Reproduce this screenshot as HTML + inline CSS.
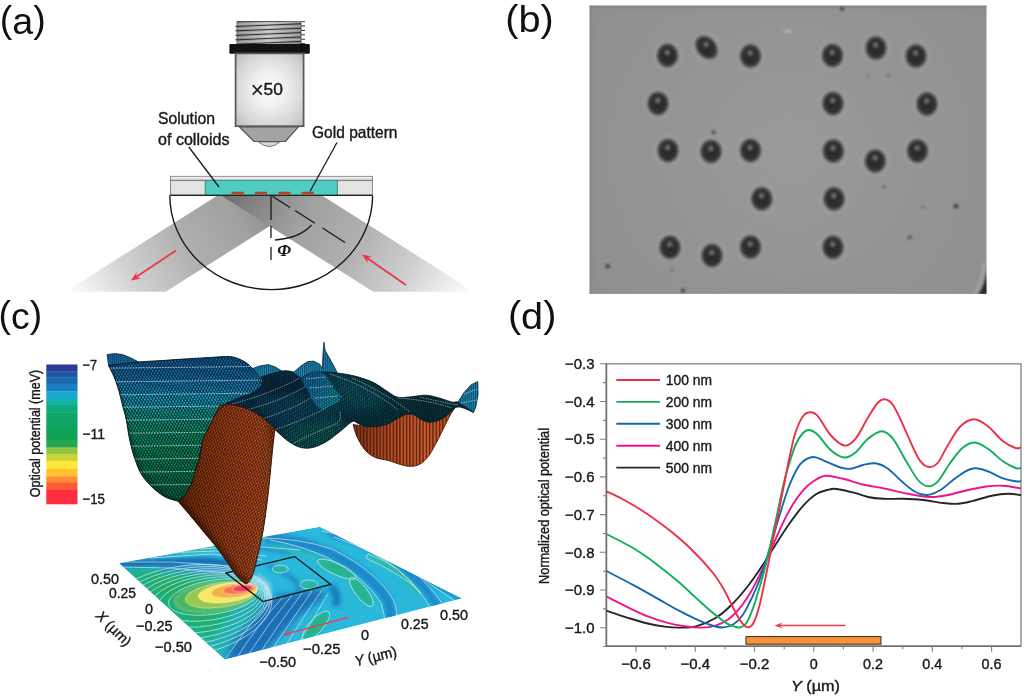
<!DOCTYPE html>
<html><head><meta charset="utf-8"><title>Figure</title>
<style>
html,body{margin:0;padding:0;background:#fff;}
body{width:1024px;height:698px;overflow:hidden;}
svg{display:block;}
text{font-family:"Liberation Sans",Arial,sans-serif;}
.lbl{font-size:36px;fill:#111;}
</style></head><body>
<svg width="1024" height="698" viewBox="0 0 1024 698">
<rect width="1024" height="698" fill="#ffffff"/>
<defs>
<linearGradient id="beamL" gradientUnits="userSpaceOnUse" x1="318" y1="195.5" x2="95" y2="336.5"><stop offset="0" stop-color="#6c6c6c"/><stop offset="0.13" stop-color="#858585"/><stop offset="0.3" stop-color="#a0a0a0"/><stop offset="0.5" stop-color="#adadad"/><stop offset="0.75" stop-color="#cfcfcf"/><stop offset="1" stop-color="#ffffff"/></linearGradient>
<linearGradient id="beamR" gradientUnits="userSpaceOnUse" x1="221" y1="195.5" x2="444" y2="336.5"><stop offset="0" stop-color="#6c6c6c"/><stop offset="0.13" stop-color="#858585"/><stop offset="0.3" stop-color="#a0a0a0"/><stop offset="0.5" stop-color="#adadad"/><stop offset="0.75" stop-color="#cfcfcf"/><stop offset="1" stop-color="#ffffff"/></linearGradient>
<radialGradient id="objbody" cx="0.5" cy="0.5" r="0.7"><stop offset="0" stop-color="#ffffff"/><stop offset="0.35" stop-color="#efefef"/><stop offset="0.75" stop-color="#d4d4d4"/><stop offset="1" stop-color="#bababa"/></radialGradient>
<linearGradient id="thr" x1="0" y1="0" x2="1" y2="0"><stop offset="0" stop-color="#858585"/><stop offset="0.5" stop-color="#c4c4c4"/><stop offset="1" stop-color="#858585"/></linearGradient>
<linearGradient id="cone" x1="0" y1="0" x2="1" y2="0"><stop offset="0" stop-color="#8c8c8c"/><stop offset="0.5" stop-color="#b4b4b4"/><stop offset="1" stop-color="#8c8c8c"/></linearGradient>
<clipPath id="clipA"><rect x="0" y="0" width="512" height="291.8"/></clipPath>
</defs>
<text class="lbl" x="-0.2" y="32" textLength="46" lengthAdjust="spacingAndGlyphs">(<tspan dy="1.5">a</tspan><tspan dy="-1.5">)</tspan></text>
<g clip-path="url(#clipA)">
<path d="M217.5,195.5L318.0,195.5L165.3,292.0L64.8,292.0Z" fill="url(#beamL)"/>
<path d="M322.0,195.5L221.0,195.5L373.7,292.0L474.7,292.0Z" fill="url(#beamR)"/>
</g>
<path d="M169.8,195.4 A101.4,94.2 0 0 0 372.6,195.4" fill="none" stroke="#1a1a1a" stroke-width="1.4"/>
<path d="M271,196 V220 M271,226 V238 M271,247 V260" stroke="#1a1a1a" stroke-width="1.3" fill="none"/>
<path d="M272.5,196.3 L290,207.5 M295,210.5 L315,223.3 M322.5,228 L345,242.5" stroke="#1a1a1a" stroke-width="1.3" fill="none"/>
<path d="M275,240 Q300,238 311.5,225" stroke="#1a1a1a" stroke-width="1.3" fill="none"/>
<text x="277.3" y="256.3" font-size="17.5" font-style="italic" font-weight="bold" style="font-family:'Liberation Serif',serif" fill="#1a1a1a">Φ</text>
<defs><linearGradient id="cg" x1="0" y1="0" x2="0" y2="1"><stop offset="0" stop-color="#f4f4f4"/><stop offset="0.55" stop-color="#e4e4e4"/><stop offset="1" stop-color="#a8a8a8"/></linearGradient></defs>
<rect x="170.4" y="176.3" width="202" height="4.3" fill="url(#cg)" stroke="#7a7a7a" stroke-width="0.8"/>
<rect x="170.4" y="180.6" width="34.8" height="14.4" fill="#e2e3e3" stroke="#7a7a7a" stroke-width="0.9"/>
<rect x="337.4" y="180.6" width="35" height="14.4" fill="#e2e3e3" stroke="#7a7a7a" stroke-width="0.9"/>
<rect x="205.4" y="180.6" width="131.8" height="14.4" fill="#4fcdc4" stroke="#3a8a86" stroke-width="0.8"/>
<path d="M169.8,195.4 H372.6" stroke="#222222" stroke-width="1.3"/>
<rect x="231.5" y="191.8" width="12.4" height="2.5" rx="1.1" fill="#c43e20"/>
<rect x="254.8" y="191.8" width="12.4" height="2.5" rx="1.1" fill="#c43e20"/>
<rect x="278.2" y="191.8" width="12.4" height="2.5" rx="1.1" fill="#c43e20"/>
<rect x="301.5" y="191.8" width="12.4" height="2.5" rx="1.1" fill="#c43e20"/>
<rect x="237" y="21.2" width="64" height="23" fill="url(#thr)"/>
<path d="M237,21.6 H305" stroke="#3a3a3a" stroke-width="0.9"/>
<path d="M237,21.2 V44 M301,21.2 V44" stroke="#555555" stroke-width="0.9"/>
<path d="M237,26.4 L301,23.8" stroke="#2e2e2e" stroke-width="1"/>
<path d="M237,24.3 L301,21.7" stroke="#e6e6e6" stroke-width="1.2" opacity="0.35"/>
<path d="M235.4,26.4 H237.2" stroke="#2e2e2e" stroke-width="1"/>
<path d="M300.8,26.0 H305" stroke="#2e2e2e" stroke-width="1"/>
<path d="M237,30.8 L301,28.2" stroke="#2e2e2e" stroke-width="1"/>
<path d="M237,28.7 L301,26.1" stroke="#e6e6e6" stroke-width="1.2" opacity="0.35"/>
<path d="M235.4,30.8 H237.2" stroke="#2e2e2e" stroke-width="1"/>
<path d="M300.8,30.4 H305" stroke="#2e2e2e" stroke-width="1"/>
<path d="M237,35.3 L301,32.6" stroke="#2e2e2e" stroke-width="1"/>
<path d="M237,33.2 L301,30.5" stroke="#e6e6e6" stroke-width="1.2" opacity="0.35"/>
<path d="M235.4,35.3 H237.2" stroke="#2e2e2e" stroke-width="1"/>
<path d="M300.8,34.8 H305" stroke="#2e2e2e" stroke-width="1"/>
<path d="M237,39.8 L301,37.0" stroke="#2e2e2e" stroke-width="1"/>
<path d="M237,37.6 L301,34.9" stroke="#e6e6e6" stroke-width="1.2" opacity="0.35"/>
<path d="M235.4,39.8 H237.2" stroke="#2e2e2e" stroke-width="1"/>
<path d="M300.8,39.2 H305" stroke="#2e2e2e" stroke-width="1"/>
<path d="M237,44.2 L301,41.4" stroke="#2e2e2e" stroke-width="1"/>
<path d="M237,42.1 L301,39.3" stroke="#e6e6e6" stroke-width="1.2" opacity="0.35"/>
<path d="M300.8,43.6 H305" stroke="#2e2e2e" stroke-width="1"/>
<rect x="229.4" y="44" width="80.4" height="9.7" rx="1.2" fill="#141210"/>
<rect x="235.6" y="53.4" width="68" height="72.8" fill="url(#objbody)" stroke="#565656" stroke-width="1.7"/>
<path d="M258.3,141.8 Q269.2,151.3 280,141.8Z" fill="#d6d6d6" stroke="#6a6a6a" stroke-width="0.9"/>
<path d="M239.3,126.8 H298.4 L285.2,141.5 H254.2Z" fill="#a3a3a1" stroke="#555555" stroke-width="1.2" stroke-linejoin="round"/>
<text x="250.6" y="97.6" font-size="23" fill="#1a1a1a">×</text>
<text x="263.6" y="95.0" font-size="17.3" text-anchor="start" fill="#1a1a1a" font-weight="normal" textLength="19.4" lengthAdjust="spacingAndGlyphs"  stroke="#1a1a1a" stroke-width="0.4">50</text>
<text x="158.0" y="124.0" font-size="16.5" text-anchor="start" fill="#1a1a1a" font-weight="normal" textLength="57.0" lengthAdjust="spacingAndGlyphs"  stroke="#1a1a1a" stroke-width="0.4">Solution</text>
<text x="158.0" y="144.5" font-size="16.5" text-anchor="start" fill="#1a1a1a" font-weight="normal" textLength="71.5" lengthAdjust="spacingAndGlyphs"  stroke="#1a1a1a" stroke-width="0.4">of colloids</text>
<text x="312.0" y="137.5" font-size="16.5" text-anchor="start" fill="#1a1a1a" font-weight="normal" textLength="85.5" lengthAdjust="spacingAndGlyphs"  stroke="#1a1a1a" stroke-width="0.4">Gold pattern</text>
<path d="M188.8,147 L219,187" stroke="#1a1a1a" stroke-width="1.3"/>
<path d="M337,142.5 L310,191.5" stroke="#1a1a1a" stroke-width="1.3"/>
<path d="M176.0,250.5 L135.7,277.3" stroke="#ef3348" stroke-width="1.7" fill="none"/><path d="M131.0,280.5 L136.8,272.1 L136.1,277.1 L141.0,278.4 Z" fill="#ef3348"/>
<path d="M406.0,285.0 L366.7,257.7" stroke="#ef3348" stroke-width="1.7" fill="none"/><path d="M362.0,254.5 L372.0,256.8 L367.1,258.0 L367.6,263.0 Z" fill="#ef3348"/>
<defs>
<radialGradient id="sph" cx="0.5" cy="0.5" r="0.5"><stop offset="0" stop-color="#2a2a2a"/><stop offset="0.6" stop-color="#2e2e2e"/><stop offset="0.76" stop-color="#454545"/><stop offset="0.9" stop-color="#777777" stop-opacity="0.8"/><stop offset="1" stop-color="#8f8f8f" stop-opacity="0"/></radialGradient>
<radialGradient id="halo" cx="0.5" cy="0.5" r="0.5"><stop offset="0.6" stop-color="#a2a2a2" stop-opacity="0.9"/><stop offset="1" stop-color="#a0a0a0" stop-opacity="0"/></radialGradient>
<radialGradient id="hl" cx="0.5" cy="0.5" r="0.5"><stop offset="0" stop-color="#8e8e8e"/><stop offset="0.5" stop-color="#707070" stop-opacity="0.6"/><stop offset="1" stop-color="#606060" stop-opacity="0"/></radialGradient>
<radialGradient id="bgb" gradientUnits="userSpaceOnUse" cx="790" cy="150" r="260"><stop offset="0" stop-color="#9a9a9a"/><stop offset="0.5" stop-color="#949494"/><stop offset="1" stop-color="#8f8f8f"/></radialGradient>
<filter id="bl" x="-20%" y="-20%" width="140%" height="140%"><feGaussianBlur stdDeviation="1.1"/></filter>
<clipPath id="clipB"><rect x="589.5" y="5.5" width="397" height="288.4"/></clipPath>
</defs>
<text class="lbl" x="505.3" y="31" textLength="48.5" lengthAdjust="spacingAndGlyphs">(<tspan dy="1.3">b</tspan><tspan dy="-1.3">)</tspan></text>
<rect x="589.5" y="5.5" width="397" height="288.4" fill="url(#bgb)"/>
<g clip-path="url(#clipB)">
<rect x="589.5" y="5.5" width="397" height="3" fill="#808080" opacity="0.5"/>
<rect x="589.5" y="5.5" width="3" height="289" fill="#808080" opacity="0.45"/>
<path d="M987.5,268 Q985.5,285 978.5,294.5 H987.5Z" fill="#262626" filter="url(#bl)"/>
<path d="M984.3,262 Q982.5,282 974.5,294" fill="none" stroke="#aaaaaa" stroke-width="1.8" filter="url(#bl)"/>
<g filter="url(#bl)">
<ellipse cx="667.5" cy="55.5" rx="16" ry="17.5" fill="url(#halo)"/>
<ellipse cx="706.5" cy="47.5" rx="16" ry="17.5" fill="url(#halo)"/>
<ellipse cx="750.5" cy="56.0" rx="16" ry="17.5" fill="url(#halo)"/>
<ellipse cx="832.5" cy="55.5" rx="16" ry="17.5" fill="url(#halo)"/>
<ellipse cx="876.0" cy="48.0" rx="16" ry="17.5" fill="url(#halo)"/>
<ellipse cx="916.0" cy="56.0" rx="16" ry="17.5" fill="url(#halo)"/>
<ellipse cx="658.0" cy="103.5" rx="16" ry="17.5" fill="url(#halo)"/>
<ellipse cx="833.0" cy="103.5" rx="16" ry="17.5" fill="url(#halo)"/>
<ellipse cx="927.0" cy="104.0" rx="16" ry="17.5" fill="url(#halo)"/>
<ellipse cx="668.0" cy="150.5" rx="16" ry="17.5" fill="url(#halo)"/>
<ellipse cx="711.0" cy="151.5" rx="16" ry="17.5" fill="url(#halo)"/>
<ellipse cx="750.5" cy="150.5" rx="16" ry="17.5" fill="url(#halo)"/>
<ellipse cx="833.3" cy="151.0" rx="16" ry="17.5" fill="url(#halo)"/>
<ellipse cx="875.3" cy="161.0" rx="16" ry="17.5" fill="url(#halo)"/>
<ellipse cx="917.5" cy="151.0" rx="16" ry="17.5" fill="url(#halo)"/>
<ellipse cx="761.8" cy="198.8" rx="16" ry="17.5" fill="url(#halo)"/>
<ellipse cx="834.0" cy="198.8" rx="16" ry="17.5" fill="url(#halo)"/>
<ellipse cx="670.0" cy="247.3" rx="16" ry="17.5" fill="url(#halo)"/>
<ellipse cx="712.0" cy="255.5" rx="16" ry="17.5" fill="url(#halo)"/>
<ellipse cx="750.5" cy="247.0" rx="16" ry="17.5" fill="url(#halo)"/>
<ellipse cx="833.0" cy="247.3" rx="16" ry="17.5" fill="url(#halo)"/>
<ellipse cx="667.5" cy="55.5" rx="12.4" ry="13.8" fill="url(#sph)"/>
<ellipse cx="667.2" cy="52.5" rx="4" ry="4.2" fill="url(#hl)"/>
<ellipse cx="706.5" cy="47.5" rx="11.5" ry="15.0" fill="url(#sph)" transform="rotate(-40 706.5 47.5)"/>
<ellipse cx="706.2" cy="44.5" rx="4" ry="4.2" fill="url(#hl)"/>
<ellipse cx="750.5" cy="56.0" rx="12.4" ry="13.8" fill="url(#sph)"/>
<ellipse cx="750.2" cy="53.0" rx="4" ry="4.2" fill="url(#hl)"/>
<ellipse cx="832.5" cy="55.5" rx="12.4" ry="13.8" fill="url(#sph)"/>
<ellipse cx="832.2" cy="52.5" rx="4" ry="4.2" fill="url(#hl)"/>
<ellipse cx="876.0" cy="48.0" rx="12.4" ry="13.8" fill="url(#sph)"/>
<ellipse cx="875.7" cy="45.0" rx="4" ry="4.2" fill="url(#hl)"/>
<ellipse cx="916.0" cy="56.0" rx="12.4" ry="13.8" fill="url(#sph)"/>
<ellipse cx="915.7" cy="53.0" rx="4" ry="4.2" fill="url(#hl)"/>
<ellipse cx="658.0" cy="103.5" rx="12.4" ry="13.8" fill="url(#sph)"/>
<ellipse cx="657.7" cy="100.5" rx="4" ry="4.2" fill="url(#hl)"/>
<ellipse cx="833.0" cy="103.5" rx="12.4" ry="13.8" fill="url(#sph)"/>
<ellipse cx="832.7" cy="100.5" rx="4" ry="4.2" fill="url(#hl)"/>
<ellipse cx="927.0" cy="104.0" rx="12.4" ry="13.8" fill="url(#sph)"/>
<ellipse cx="926.7" cy="101.0" rx="4" ry="4.2" fill="url(#hl)"/>
<ellipse cx="668.0" cy="150.5" rx="12.4" ry="13.8" fill="url(#sph)"/>
<ellipse cx="667.7" cy="147.5" rx="4" ry="4.2" fill="url(#hl)"/>
<ellipse cx="711.0" cy="151.5" rx="12.4" ry="13.8" fill="url(#sph)"/>
<ellipse cx="710.7" cy="148.5" rx="4" ry="4.2" fill="url(#hl)"/>
<ellipse cx="750.5" cy="150.5" rx="12.4" ry="13.8" fill="url(#sph)"/>
<ellipse cx="750.2" cy="147.5" rx="4" ry="4.2" fill="url(#hl)"/>
<ellipse cx="833.3" cy="151.0" rx="12.4" ry="13.8" fill="url(#sph)"/>
<ellipse cx="833.0" cy="148.0" rx="4" ry="4.2" fill="url(#hl)"/>
<ellipse cx="875.3" cy="161.0" rx="12.4" ry="13.8" fill="url(#sph)"/>
<ellipse cx="875.0" cy="158.0" rx="4" ry="4.2" fill="url(#hl)"/>
<ellipse cx="917.5" cy="151.0" rx="12.4" ry="13.8" fill="url(#sph)"/>
<ellipse cx="917.2" cy="148.0" rx="4" ry="4.2" fill="url(#hl)"/>
<ellipse cx="761.8" cy="198.8" rx="12.4" ry="13.8" fill="url(#sph)"/>
<ellipse cx="761.5" cy="195.8" rx="4" ry="4.2" fill="url(#hl)"/>
<ellipse cx="834.0" cy="198.8" rx="12.4" ry="13.8" fill="url(#sph)"/>
<ellipse cx="833.7" cy="195.8" rx="4" ry="4.2" fill="url(#hl)"/>
<ellipse cx="670.0" cy="247.3" rx="12.4" ry="13.8" fill="url(#sph)"/>
<ellipse cx="669.7" cy="244.3" rx="4" ry="4.2" fill="url(#hl)"/>
<ellipse cx="712.0" cy="255.5" rx="12.4" ry="13.8" fill="url(#sph)"/>
<ellipse cx="711.7" cy="252.5" rx="4" ry="4.2" fill="url(#hl)"/>
<ellipse cx="750.5" cy="247.0" rx="12.4" ry="13.8" fill="url(#sph)"/>
<ellipse cx="750.2" cy="244.0" rx="4" ry="4.2" fill="url(#hl)"/>
<ellipse cx="833.0" cy="247.3" rx="12.4" ry="13.8" fill="url(#sph)"/>
<ellipse cx="832.7" cy="244.3" rx="4" ry="4.2" fill="url(#hl)"/>
<circle cx="842.0" cy="9.0" r="2.2" fill="#3c3c3c" opacity="0.75"/>
<circle cx="713.5" cy="132.5" r="2.4" fill="#3c3c3c" opacity="0.60"/>
<circle cx="956.0" cy="206.0" r="2.6" fill="#3c3c3c" opacity="0.80"/>
<circle cx="909.7" cy="237.3" r="2.4" fill="#3c3c3c" opacity="0.55"/>
<circle cx="607.7" cy="266.0" r="2.6" fill="#3c3c3c" opacity="0.70"/>
<circle cx="683.0" cy="290.5" r="2.4" fill="#3c3c3c" opacity="0.70"/>
<circle cx="884.0" cy="187.0" r="2.0" fill="#3c3c3c" opacity="0.35"/>
<circle cx="672.0" cy="270.0" r="2.0" fill="#3c3c3c" opacity="0.30"/>
<circle cx="923.0" cy="207.0" r="1.6" fill="#3c3c3c" opacity="0.30"/>
<circle cx="868.0" cy="76.0" r="1.6" fill="#3c3c3c" opacity="0.30"/>
<circle cx="888.0" cy="75.0" r="1.8" fill="#3c3c3c" opacity="0.30"/>
<ellipse cx="787.5" cy="31" rx="4.5" ry="2.6" fill="#b4b4b4" opacity="0.6"/>
</g></g>
<text class="lbl" x="-1.4" y="327.3" textLength="43.5" lengthAdjust="spacingAndGlyphs">(<tspan dy="1.2">c</tspan><tspan dy="-1.2">)</tspan></text>
<defs>
<pattern id="mesh" width="3.1" height="5" patternUnits="userSpaceOnUse" patternTransform="rotate(-6)"><path d="M0,0 L3.1,5 M3.1,0 L0,5" stroke="#041a2a" stroke-width="0.85" fill="none"/></pattern>
<pattern id="meshR" width="2.6" height="5" patternUnits="userSpaceOnUse" patternTransform="rotate(-28)"><path d="M0,0 L2.6,5 M2.6,0 L0,5" stroke="#052033" stroke-width="0.8" fill="none"/></pattern>
<linearGradient id="rdg" gradientUnits="userSpaceOnUse" x1="0" y1="345" x2="0" y2="382"><stop offset="0" stop-color="#1a6ea0"/><stop offset="0.6" stop-color="#1b8ab4"/><stop offset="1" stop-color="#1a96b8"/></linearGradient>
<linearGradient id="ribg" gradientUnits="userSpaceOnUse" x1="305" y1="374" x2="330" y2="408"><stop offset="0" stop-color="#176aa0"/><stop offset="0.6" stop-color="#1a8cb6"/><stop offset="1" stop-color="#18a0b4"/></linearGradient>
<pattern id="meshO" width="3" height="4.6" patternUnits="userSpaceOnUse" patternTransform="rotate(14)"><path d="M0,0 L3,4.6 M3,0 L0,4.6" stroke="#200800" stroke-width="0.84" fill="none"/></pattern>
<pattern id="meshT" width="2.2" height="3.6" patternUnits="userSpaceOnUse" patternTransform="rotate(-35)"><path d="M0,0 L2.2,3.6 M2.2,0 L0,3.6" stroke="#04161f" stroke-width="0.75" fill="none"/></pattern>
<pattern id="vst" width="3.3" height="8" patternUnits="userSpaceOnUse"><path d="M0.6,0 V8" stroke="#4a1a08" stroke-width="1.4" opacity="0.85"/><path d="M2.2,0 V8" stroke="#dc6c40" stroke-width="0.9" opacity="0.3"/></pattern>
<pattern id="vstB" width="1.9" height="8" patternUnits="userSpaceOnUse"><path d="M0.5,0 V8" stroke="#0a2f4a" stroke-width="0.7"/></pattern>
<pattern id="flh" width="2" height="2" patternUnits="userSpaceOnUse" patternTransform="rotate(-15)"><path d="M0,0.5 H2" stroke="#0a4a6a" stroke-width="0.3" opacity="0.22"/></pattern>
<linearGradient id="mf" gradientUnits="userSpaceOnUse" x1="0" y1="358" x2="0" y2="503"><stop offset="0" stop-color="#1468ac"/><stop offset="0.1" stop-color="#1878bc"/><stop offset="0.19" stop-color="#1a92cc"/><stop offset="0.28" stop-color="#1cb4da"/><stop offset="0.36" stop-color="#14b6a6"/><stop offset="0.46" stop-color="#0eae78"/><stop offset="0.6" stop-color="#0ca456"/><stop offset="0.78" stop-color="#0a9246"/><stop offset="1" stop-color="#087236"/></linearGradient>
<linearGradient id="of" gradientUnits="userSpaceOnUse" x1="165" y1="0" x2="275" y2="0"><stop offset="0" stop-color="#5a2208"/><stop offset="0.3" stop-color="#9c4014"/><stop offset="0.6" stop-color="#c2501e"/><stop offset="0.85" stop-color="#d45c28"/><stop offset="1" stop-color="#a04016"/></linearGradient>
<linearGradient id="tl" gradientUnits="userSpaceOnUse" x1="220" y1="0" x2="475" y2="0"><stop offset="0" stop-color="#0a3a5c"/><stop offset="0.17" stop-color="#093557"/><stop offset="0.32" stop-color="#0b4c6a"/><stop offset="0.47" stop-color="#0c5a6a"/><stop offset="0.62" stop-color="#0a4850"/><stop offset="0.82" stop-color="#083a40"/><stop offset="1" stop-color="#0a4a58"/></linearGradient>
<linearGradient id="tr" gradientUnits="userSpaceOnUse" x1="340" y1="372" x2="420" y2="420"><stop offset="0" stop-color="#0d5a70"/><stop offset="0.6" stop-color="#0c4f5e"/><stop offset="1" stop-color="#0f6a78"/></linearGradient>
<linearGradient id="orr" gradientUnits="userSpaceOnUse" x1="355" y1="0" x2="450" y2="0"><stop offset="0" stop-color="#6a280e"/><stop offset="0.35" stop-color="#a8441c"/><stop offset="0.75" stop-color="#c8582a"/><stop offset="1" stop-color="#b04a1e"/></linearGradient>
<filter id="b2" x="-30%" y="-30%" width="160%" height="160%"><feGaussianBlur stdDeviation="2"/></filter>
<filter id="b3" x="-30%" y="-30%" width="160%" height="160%"><feGaussianBlur stdDeviation="3.5"/></filter>
<filter id="b1" x="-30%" y="-30%" width="160%" height="160%"><feGaussianBlur stdDeviation="1"/></filter>
<clipPath id="clipF"><path d="M119.3,563.2L319.7,526.8L461.6,598.6L224.8,659.6Z"/></clipPath>
</defs>
<rect x="46.3" y="364.5" width="31.2" height="7.1" fill="#2c3a93"/>
<rect x="46.3" y="371.3" width="31.2" height="6.5" fill="#1e57a4"/>
<rect x="46.3" y="377.5" width="31.2" height="6.6" fill="#1b68b0"/>
<rect x="46.3" y="383.8" width="31.2" height="7.8" fill="#1b80c2"/>
<rect x="46.3" y="391.3" width="31.2" height="7.8" fill="#1aa9d0"/>
<rect x="46.3" y="398.8" width="31.2" height="6.5" fill="#13b1a6"/>
<rect x="46.3" y="405.0" width="31.2" height="7.8" fill="#10a97c"/>
<rect x="46.3" y="412.5" width="31.2" height="13.8" fill="#0fa565"/>
<rect x="46.3" y="426.0" width="31.2" height="14.3" fill="#0ea158"/>
<rect x="46.3" y="440.0" width="31.2" height="7.8" fill="#25a650"/>
<rect x="46.3" y="447.5" width="31.2" height="6.8" fill="#8fc642"/>
<rect x="46.3" y="454.0" width="31.2" height="7.3" fill="#c9d535"/>
<rect x="46.3" y="461.0" width="31.2" height="8.1" fill="#ffe83a"/>
<rect x="46.3" y="468.8" width="31.2" height="7.8" fill="#ffc233"/>
<rect x="46.3" y="476.3" width="31.2" height="6.5" fill="#ff8d33"/>
<rect x="46.3" y="482.5" width="31.2" height="7.8" fill="#ff5a33"/>
<rect x="46.3" y="490.0" width="31.2" height="14.3" fill="#ff2d42"/>
<text x="82.5" y="370.0" font-size="14.8" text-anchor="start" fill="#1a1a1a" font-weight="normal" textLength="14.5" lengthAdjust="spacingAndGlyphs"  stroke="#1a1a1a" stroke-width="0.4">−7</text>
<text x="82.5" y="438.8" font-size="14.8" text-anchor="start" fill="#1a1a1a" font-weight="normal" textLength="22.5" lengthAdjust="spacingAndGlyphs"  stroke="#1a1a1a" stroke-width="0.4">−11</text>
<text x="82.5" y="503.8" font-size="14.8" text-anchor="start" fill="#1a1a1a" font-weight="normal" textLength="22.5" lengthAdjust="spacingAndGlyphs"  stroke="#1a1a1a" stroke-width="0.4">−15</text>
<text transform="translate(39.6,433.5) rotate(-90)" text-anchor="middle" font-size="14.2" fill="#1a1a1a" stroke="#1a1a1a" stroke-width="0.4" textLength="127.5" lengthAdjust="spacingAndGlyphs">Optical potential (meV)</text>
<g clip-path="url(#clipF)">
<path d="M119.3,563.2L319.7,526.8L461.6,598.6L224.8,659.6Z" fill="#2bbce0"/>
<g filter="url(#b3)">
<path d="M120.0,566.0L180.0,568.0L232.0,574.0L262.0,590.0L262.0,606.0L240.0,632.0L222.0,656.0L196.0,646.0L150.0,604.0Z" fill="#22b4b4"/>
<path d="M127.6,569.2L180.3,572.7L226.0,578.0L240.0,590.3L232.0,611.4L212.0,639.5L197.9,636.0L155.7,604.4Z" fill="#1fb47c"/>
<path d="M145.0,577.0L185.0,579.0L222.0,584.0L232.0,595.0L222.0,612.0L205.0,628.0L180.0,612.0L158.0,592.0Z" fill="#22b06a"/>
<path d="M276.0,596.0L321.0,588.6L326.0,596.0L300.0,615.0L276.0,640.0L265.0,652.0L232.0,660.0L224.0,660.0L232.0,643.0L250.0,622.0L266.0,603.0Z" fill="#1a6fb8"/>
</g>
<g filter="url(#b2)">
<path d="M117,564.3 L160,562.3 L205,560.8 L230,563.5" stroke="#1668b4" stroke-width="6.5" fill="none"/>
<path d="M160,568.8 L230,570.5" stroke="#1a76be" stroke-width="4" fill="none"/>
<path d="M170,553.5 L215,549.5" stroke="#3cc0b4" stroke-width="4" fill="none"/>
<path d="M215,546 L262,548 L290,553" stroke="#1f8ace" stroke-width="3.5" fill="none"/>
<path d="M264.7,537.6 Q300,540 330,553 Q372,574 387.8,601 Q392,612 391.3,626" stroke="#1f8ace" stroke-width="10" fill="none"/>
<path d="M328,532 Q372,544 400,565 Q428,588 441,612" stroke="#1f8ace" stroke-width="8" fill="none"/>
<path d="M420,574 L464,598" stroke="#1f8ace" stroke-width="8" fill="none"/>
<path d="M330,586 Q340,594 335,606" stroke="#1b7cc0" stroke-width="8" fill="none"/>
<path d="M268,566 Q286,572 296,582 Q300,588 298,592" stroke="#1c86c8" stroke-width="5" fill="none" opacity="0.9"/>
<ellipse cx="336.8" cy="569.2" rx="20" ry="5.2" transform="rotate(24 336.8 569.2)" fill="#25b888"/>
<ellipse cx="361.4" cy="592" rx="17" ry="5.5" transform="rotate(52 361.4 592)" fill="#25b888"/>
<path d="M370,556 Q400,568 418,594" stroke="#2dc0a4" stroke-width="5.5" fill="none"/>
<ellipse cx="316" cy="626" rx="18" ry="6.5" transform="rotate(-48 316 626)" fill="#25b888"/>
<path d="M270,546 Q296,550 320,557" stroke="#2dc0a4" stroke-width="3.5" fill="none"/>
<ellipse cx="280.3" cy="569" rx="7" ry="3.2" fill="#2abc94"/>
<ellipse cx="309" cy="584.5" rx="8" ry="4" fill="#2abc94"/>
</g>
<ellipse cx="216.0" cy="596.5" rx="42.0" ry="15.0" transform="rotate(-8 216.0 596.5)" fill="#4cba62" stroke="#ffffff" stroke-opacity="0.7" stroke-width="0.7" style="filter:blur(1.2px)"/>
<ellipse cx="221.0" cy="595.0" rx="36.0" ry="12.2" transform="rotate(-8 221.0 595.0)" fill="#9ccc4c" stroke="#ffffff" stroke-opacity="0.7" stroke-width="0.7" style="filter:blur(0.7px)"/>
<ellipse cx="228.0" cy="592.6" rx="30.0" ry="9.5" transform="rotate(-8 228.0 592.6)" fill="#fdf061" stroke="#ffffff" stroke-opacity="0.7" stroke-width="0.7" style="filter:blur(0.5px)"/>
<ellipse cx="234.0" cy="590.6" rx="23.0" ry="7.0" transform="rotate(-7 234.0 590.6)" fill="#ffb347" stroke="#ffffff" stroke-opacity="0.7" stroke-width="0.7" style="filter:blur(0.4px)"/>
<ellipse cx="239.0" cy="589.3" rx="16.0" ry="4.9" transform="rotate(-6 239.0 589.3)" fill="#ff7a4a" stroke="#ffffff" stroke-opacity="0.7" stroke-width="0.7" style="filter:blur(0.4px)"/>
<ellipse cx="242.5" cy="588.5" rx="10.0" ry="3.3" transform="rotate(-5 242.5 588.5)" fill="#fb3a55" stroke="#ffffff" stroke-opacity="0.7" stroke-width="0.7" style="filter:blur(0.4px)"/>
<path d="M256,577 Q272,584 268,600" stroke="#e4f4f0" stroke-width="6" fill="none" opacity="0.6" filter="url(#b2)"/>
<g fill="none" stroke="#ffffff" stroke-width="0.7" opacity="0.8"><ellipse cx="214.0" cy="597.0" rx="46.0" ry="17.0" transform="rotate(-9 214.0 597.0)"/><ellipse cx="209.8" cy="599.0" rx="52.0" ry="21.0" transform="rotate(-9 209.8 599.0)"/><ellipse cx="205.6" cy="601.0" rx="58.0" ry="25.0" transform="rotate(-9 205.6 601.0)"/><ellipse cx="201.4" cy="603.0" rx="64.0" ry="29.0" transform="rotate(-9 201.4 603.0)"/><ellipse cx="197.2" cy="605.0" rx="70.0" ry="33.0" transform="rotate(-9 197.2 605.0)"/><ellipse cx="193.0" cy="607.0" rx="76.0" ry="37.0" transform="rotate(-9 193.0 607.0)"/><ellipse cx="188.8" cy="609.0" rx="82.0" ry="41.0" transform="rotate(-9 188.8 609.0)"/><ellipse cx="184.6" cy="611.0" rx="88.0" ry="45.0" transform="rotate(-9 184.6 611.0)"/>
<path d="M258,538 Q300,538 332,549 Q378,572 394,601 Q398,612 397,626"/>
<path d="M270,540 Q300,545 328,558 Q366,578 381,603 Q385,614 385,628"/>
<path d="M322,531 Q372,541 404,563 Q434,588 447,611"/>
<path d="M334,537 Q372,550 396,568 Q422,590 434,615"/>
<path d="M416,570 L462,595"/>
<path d="M424,580 L458,603"/>
<path d="M276,596 Q250,622 226,658"/>
<path d="M284,596 Q258,624 236,659"/>
<path d="M292,595 Q268,624 246,658"/>
<path d="M302,593 Q280,622 258,656"/>
<path d="M312,591 Q292,620 270,652"/>
<path d="M322,590 Q304,616 284,648"/>
<path d="M328,594 Q314,618 298,644"/>
<path d="M119,567 L170,568 L228,573"/>
<path d="M121,562 L172,562 L230,566"/>
<path d="M150,558 L212,554 L262,560"/>
<path d="M164,553 L216,551 L266,556"/>
<path d="M200,549 L250,546 L300,550"/>
<ellipse cx="336.8" cy="569.2" rx="21" ry="5.8" transform="rotate(24 336.8 569.2)"/>
<ellipse cx="361.4" cy="592" rx="18" ry="6" transform="rotate(52 361.4 592)"/>
<ellipse cx="316" cy="626" rx="19" ry="7" transform="rotate(-48 316 626)"/>
<ellipse cx="280.3" cy="569" rx="8" ry="3.8"/><ellipse cx="309" cy="584.5" rx="9" ry="4.5"/>
<path d="M368,554 Q402,566 421,594 Q412,580 366,558Z"/>
</g>
<path d="M119.3,563.2L319.7,526.8L461.6,598.6L224.8,659.6Z" fill="url(#flh)"/>
</g>
<path d="M226.0,573.0L294.6,556.6L330.8,584.4L263.0,601.6Z" fill="none" stroke="#151515" stroke-width="1.3"/>
<path d="M348.0,617.5 L287.6,633.6" stroke="#e8405a" stroke-width="1.3" fill="none"/><path d="M283.0,634.8 L290.0,629.8 L288.0,633.5 L291.5,635.6 Z" fill="#e8405a"/>
<path d="M252.6,368.5L259.5,366.0L268.1,364.6L275.0,366.8L281.9,371.0L290.4,371.4L293.9,372.0L300.8,366.0L307.6,361.6L313.6,361.1L319.7,364.2L322.4,368.5L322.6,360.0L323.1,352.2L324.0,341.9L325.2,350.5L330.0,359.0L334.3,366.8L336.8,372.0L340.0,380.0L320.0,384.0L296.0,380.0L270.0,380.0L258.0,380.0Z" fill="url(#rdg)"/>
<path d="M252.6,368.5L259.5,366.0L268.1,364.6L275.0,366.8L281.9,371.0L290.4,371.4L293.9,372.0L300.8,366.0L307.6,361.6L313.6,361.1L319.7,364.2L322.4,368.5L322.6,360.0L323.1,352.2L324.0,341.9L325.2,350.5L330.0,359.0L334.3,366.8L336.8,372.0L340.0,380.0L320.0,384.0L296.0,380.0L270.0,380.0L258.0,380.0Z" fill="url(#vstB)"/>
<path d="M252.6,368.5L259.5,366.0L268.1,364.6L275.0,366.8L281.9,371.0L290.4,371.4L293.9,372.0L300.8,366.0L307.6,361.6L313.6,361.1L319.7,364.2L322.4,368.5L322.6,360.0L323.1,352.2L324.0,341.9L325.2,350.5L330.0,359.0L334.3,366.8L336.8,372.0L340.0,380.0L320.0,384.0L296.0,380.0L270.0,380.0L258.0,380.0Z" fill="none" stroke="#06202e" stroke-width="0.7"/>
<path d="M107.0,354.5L115.0,353.6L122.5,354.5L130.0,357.5L138.8,362.0L125.0,364.5L108.6,366.0Z" fill="#176aa6"/>
<path d="M107.0,354.5L115.0,353.6L122.5,354.5L130.0,357.5L138.8,362.0L125.0,364.5L108.6,366.0Z" fill="url(#vstB)"/>
<path d="M107.0,354.5L115.0,353.6L122.5,354.5L130.0,357.5L138.8,362.0L125.0,364.5L108.6,366.0Z" fill="none" stroke="#06202e" stroke-width="0.7"/>
<path d="M353.2,424.4C353.6,426.0 354.5,430.6 355.8,433.9C357.1,437.2 358.9,441.0 360.9,444.2C362.9,447.4 365.2,450.5 367.8,452.8C370.4,455.1 373.0,456.6 376.4,457.9C379.8,459.2 384.7,459.5 388.4,460.5C392.1,461.5 395.5,463.1 398.7,464.0C401.9,464.9 404.4,465.9 407.3,466.2C410.2,466.5 413.3,466.4 415.9,465.7C418.5,465.0 420.5,464.1 422.8,462.2C425.1,460.3 427.4,457.8 429.7,454.5C432.0,451.2 434.2,446.8 436.5,442.5C438.8,438.2 441.1,433.3 443.4,428.7C445.7,424.1 448.3,418.6 450.3,415.0C452.3,411.4 454.5,408.6 455.4,407.3C453.7,408.9 448.2,414.4 445.1,416.7C442.0,419.0 439.4,420.1 436.5,421.0C433.6,421.9 430.5,422.2 427.9,421.9C425.3,421.6 423.4,420.4 421.1,419.3C418.8,418.2 416.5,415.9 414.2,415.0C411.9,414.1 409.9,413.7 407.3,414.1C404.7,414.5 401.9,416.0 398.7,417.6C395.5,419.2 391.8,422.2 388.4,423.6C385.0,425.0 382.1,425.8 378.1,426.2C374.1,426.6 368.5,426.5 364.4,426.2C360.2,425.9 355.1,424.7 353.2,424.4Z" fill="url(#orr)"/>
<path d="M353.2,424.4C353.6,426.0 354.5,430.6 355.8,433.9C357.1,437.2 358.9,441.0 360.9,444.2C362.9,447.4 365.2,450.5 367.8,452.8C370.4,455.1 373.0,456.6 376.4,457.9C379.8,459.2 384.7,459.5 388.4,460.5C392.1,461.5 395.5,463.1 398.7,464.0C401.9,464.9 404.4,465.9 407.3,466.2C410.2,466.5 413.3,466.4 415.9,465.7C418.5,465.0 420.5,464.1 422.8,462.2C425.1,460.3 427.4,457.8 429.7,454.5C432.0,451.2 434.2,446.8 436.5,442.5C438.8,438.2 441.1,433.3 443.4,428.7C445.7,424.1 448.3,418.6 450.3,415.0C452.3,411.4 454.5,408.6 455.4,407.3C453.7,408.9 448.2,414.4 445.1,416.7C442.0,419.0 439.4,420.1 436.5,421.0C433.6,421.9 430.5,422.2 427.9,421.9C425.3,421.6 423.4,420.4 421.1,419.3C418.8,418.2 416.5,415.9 414.2,415.0C411.9,414.1 409.9,413.7 407.3,414.1C404.7,414.5 401.9,416.0 398.7,417.6C395.5,419.2 391.8,422.2 388.4,423.6C385.0,425.0 382.1,425.8 378.1,426.2C374.1,426.6 368.5,426.5 364.4,426.2C360.2,425.9 355.1,424.7 353.2,424.4Z" fill="url(#vst)"/>
<path d="M353.2,424.4C353.6,426.0 354.5,430.6 355.8,433.9C357.1,437.2 358.9,441.0 360.9,444.2C362.9,447.4 365.2,450.5 367.8,452.8C370.4,455.1 373.0,456.6 376.4,457.9C379.8,459.2 384.7,459.5 388.4,460.5C392.1,461.5 395.5,463.1 398.7,464.0C401.9,464.9 404.4,465.9 407.3,466.2C410.2,466.5 413.3,466.4 415.9,465.7C418.5,465.0 420.5,464.1 422.8,462.2C425.1,460.3 427.4,457.8 429.7,454.5C432.0,451.2 434.2,446.8 436.5,442.5C438.8,438.2 441.1,433.3 443.4,428.7C445.7,424.1 448.3,418.6 450.3,415.0C452.3,411.4 454.5,408.6 455.4,407.3C453.7,408.9 448.2,414.4 445.1,416.7C442.0,419.0 439.4,420.1 436.5,421.0C433.6,421.9 430.5,422.2 427.9,421.9C425.3,421.6 423.4,420.4 421.1,419.3C418.8,418.2 416.5,415.9 414.2,415.0C411.9,414.1 409.9,413.7 407.3,414.1C404.7,414.5 401.9,416.0 398.7,417.6C395.5,419.2 391.8,422.2 388.4,423.6C385.0,425.0 382.1,425.8 378.1,426.2C374.1,426.6 368.5,426.5 364.4,426.2C360.2,425.9 355.1,424.7 353.2,424.4Z" fill="none" stroke="#3a1506" stroke-width="0.8"/>
<defs><clipPath id="clipT"><path d="M220.0,405.4C222.9,404.3 231.5,400.9 237.2,398.6C242.9,396.3 250.2,394.1 254.4,391.7C258.6,389.3 261.0,386.4 262.1,384.0C263.2,381.6 261.4,378.2 261.2,377.0C262.9,376.4 267.8,374.7 271.5,373.7C275.2,372.7 280.5,371.4 283.6,371.0C286.8,370.6 288.4,370.8 290.4,371.4C292.4,372.0 293.9,373.4 295.6,374.5C297.3,375.6 299.9,377.4 300.8,378.0C302.5,377.1 307.7,373.8 311.1,372.8C314.5,371.8 317.1,372.0 321.4,372.0C325.7,372.0 331.2,372.2 336.9,372.9C342.6,373.6 349.8,374.7 355.8,376.3C361.8,377.9 367.9,379.9 373.0,382.3C378.1,384.7 382.7,388.4 386.7,390.9C390.7,393.3 393.3,396.0 397.0,397.0C400.7,398.0 404.1,397.3 409.0,397.0C413.9,396.7 420.8,394.9 426.2,395.2C431.6,395.5 437.4,397.5 441.7,398.7C446.0,399.9 449.3,401.5 452.0,402.1C454.7,402.7 455.4,401.1 458.0,402.1C460.6,403.1 464.9,406.4 467.5,408.1C470.1,409.8 472.5,411.7 473.5,412.4C471.6,411.6 465.0,408.4 462.0,407.5C459.0,406.6 456.5,407.3 455.4,407.3C453.7,408.9 448.2,414.4 445.1,416.7C442.0,419.0 439.4,420.1 436.5,421.0C433.6,421.9 430.5,422.2 427.9,421.9C425.3,421.6 423.4,420.4 421.1,419.3C418.8,418.2 416.5,415.9 414.2,415.0C411.9,414.1 409.9,413.7 407.3,414.1C404.7,414.5 401.9,416.0 398.7,417.6C395.5,419.2 391.8,422.2 388.4,423.6C385.0,425.0 382.1,425.8 378.1,426.2C374.1,426.6 368.4,427.1 364.4,426.2C360.4,425.3 355.7,421.9 354.0,421.0C353.4,421.3 352.9,420.9 350.6,422.6C348.3,424.3 344.3,428.1 340.3,431.2C336.3,434.3 331.1,438.8 326.5,441.5C321.9,444.2 317.1,446.5 312.8,447.5C308.5,448.5 304.8,448.5 300.8,447.5C296.8,446.5 292.7,444.2 288.7,441.5C284.7,438.8 279.0,433.2 276.7,431.2C274.4,429.2 275.3,429.8 275.0,429.5C273.6,428.1 269.8,423.8 266.4,420.9C263.0,418.0 258.4,414.6 254.4,412.3C250.4,410.0 246.3,408.5 242.3,407.2C238.3,405.9 234.0,404.9 230.3,404.6C226.6,404.3 221.7,405.3 220.0,405.4Z"/></clipPath></defs>
<path d="M220.0,405.4C222.9,404.3 231.5,400.9 237.2,398.6C242.9,396.3 250.2,394.1 254.4,391.7C258.6,389.3 261.0,386.4 262.1,384.0C263.2,381.6 261.4,378.2 261.2,377.0C262.9,376.4 267.8,374.7 271.5,373.7C275.2,372.7 280.5,371.4 283.6,371.0C286.8,370.6 288.4,370.8 290.4,371.4C292.4,372.0 293.9,373.4 295.6,374.5C297.3,375.6 299.9,377.4 300.8,378.0C302.5,377.1 307.7,373.8 311.1,372.8C314.5,371.8 317.1,372.0 321.4,372.0C325.7,372.0 331.2,372.2 336.9,372.9C342.6,373.6 349.8,374.7 355.8,376.3C361.8,377.9 367.9,379.9 373.0,382.3C378.1,384.7 382.7,388.4 386.7,390.9C390.7,393.3 393.3,396.0 397.0,397.0C400.7,398.0 404.1,397.3 409.0,397.0C413.9,396.7 420.8,394.9 426.2,395.2C431.6,395.5 437.4,397.5 441.7,398.7C446.0,399.9 449.3,401.5 452.0,402.1C454.7,402.7 455.4,401.1 458.0,402.1C460.6,403.1 464.9,406.4 467.5,408.1C470.1,409.8 472.5,411.7 473.5,412.4C471.6,411.6 465.0,408.4 462.0,407.5C459.0,406.6 456.5,407.3 455.4,407.3C453.7,408.9 448.2,414.4 445.1,416.7C442.0,419.0 439.4,420.1 436.5,421.0C433.6,421.9 430.5,422.2 427.9,421.9C425.3,421.6 423.4,420.4 421.1,419.3C418.8,418.2 416.5,415.9 414.2,415.0C411.9,414.1 409.9,413.7 407.3,414.1C404.7,414.5 401.9,416.0 398.7,417.6C395.5,419.2 391.8,422.2 388.4,423.6C385.0,425.0 382.1,425.8 378.1,426.2C374.1,426.6 368.4,427.1 364.4,426.2C360.4,425.3 355.7,421.9 354.0,421.0C353.4,421.3 352.9,420.9 350.6,422.6C348.3,424.3 344.3,428.1 340.3,431.2C336.3,434.3 331.1,438.8 326.5,441.5C321.9,444.2 317.1,446.5 312.8,447.5C308.5,448.5 304.8,448.5 300.8,447.5C296.8,446.5 292.7,444.2 288.7,441.5C284.7,438.8 279.0,433.2 276.7,431.2C274.4,429.2 275.3,429.8 275.0,429.5C273.6,428.1 269.8,423.8 266.4,420.9C263.0,418.0 258.4,414.6 254.4,412.3C250.4,410.0 246.3,408.5 242.3,407.2C238.3,405.9 234.0,404.9 230.3,404.6C226.6,404.3 221.7,405.3 220.0,405.4Z" fill="url(#tl)"/>
<g clip-path="url(#clipT)">
<g filter="url(#b3)">
<path d="M262,382 L300,376 L312,392 L290,402 L262,396Z" fill="#082b4a"/>
<path d="M252,398 L300,392 L318,412 L292,430 L266,416Z" fill="#0d5a7c" opacity="0.8"/>
<path d="M280,432 L318,420 L345,424 L330,446 L300,452Z" fill="#10786a" opacity="0.9"/>
<path d="M336,378 L372,388 L388,404 L360,408 L340,398Z" fill="#128a96" opacity="0.5"/>
<path d="M340,412 L372,414 L392,420 L370,428 L345,426Z" fill="#083a40" opacity="0.8"/>
</g>
<path d="M220.0,405.4C222.9,404.3 231.5,400.9 237.2,398.6C242.9,396.3 250.2,394.1 254.4,391.7C258.6,389.3 261.0,386.4 262.1,384.0C263.2,381.6 261.4,378.2 261.2,377.0C262.9,376.4 267.8,374.7 271.5,373.7C275.2,372.7 280.5,371.4 283.6,371.0C286.8,370.6 288.4,370.8 290.4,371.4C292.4,372.0 293.9,373.4 295.6,374.5C297.3,375.6 299.9,377.4 300.8,378.0C302.5,377.1 307.7,373.8 311.1,372.8C314.5,371.8 317.1,372.0 321.4,372.0C325.7,372.0 331.2,372.2 336.9,372.9C342.6,373.6 349.8,374.7 355.8,376.3C361.8,377.9 367.9,379.9 373.0,382.3C378.1,384.7 382.7,388.4 386.7,390.9C390.7,393.3 393.3,396.0 397.0,397.0C400.7,398.0 404.1,397.3 409.0,397.0C413.9,396.7 420.8,394.9 426.2,395.2C431.6,395.5 437.4,397.5 441.7,398.7C446.0,399.9 449.3,401.5 452.0,402.1C454.7,402.7 455.4,401.1 458.0,402.1C460.6,403.1 464.9,406.4 467.5,408.1C470.1,409.8 472.5,411.7 473.5,412.4C471.6,411.6 465.0,408.4 462.0,407.5C459.0,406.6 456.5,407.3 455.4,407.3C453.7,408.9 448.2,414.4 445.1,416.7C442.0,419.0 439.4,420.1 436.5,421.0C433.6,421.9 430.5,422.2 427.9,421.9C425.3,421.6 423.4,420.4 421.1,419.3C418.8,418.2 416.5,415.9 414.2,415.0C411.9,414.1 409.9,413.7 407.3,414.1C404.7,414.5 401.9,416.0 398.7,417.6C395.5,419.2 391.8,422.2 388.4,423.6C385.0,425.0 382.1,425.8 378.1,426.2C374.1,426.6 368.4,427.1 364.4,426.2C360.4,425.3 355.7,421.9 354.0,421.0C353.4,421.3 352.9,420.9 350.6,422.6C348.3,424.3 344.3,428.1 340.3,431.2C336.3,434.3 331.1,438.8 326.5,441.5C321.9,444.2 317.1,446.5 312.8,447.5C308.5,448.5 304.8,448.5 300.8,447.5C296.8,446.5 292.7,444.2 288.7,441.5C284.7,438.8 279.0,433.2 276.7,431.2C274.4,429.2 275.3,429.8 275.0,429.5C273.6,428.1 269.8,423.8 266.4,420.9C263.0,418.0 258.4,414.6 254.4,412.3C250.4,410.0 246.3,408.5 242.3,407.2C238.3,405.9 234.0,404.9 230.3,404.6C226.6,404.3 221.7,405.3 220.0,405.4Z" fill="url(#meshT)"/>
<g fill="none" stroke="#cfe3e3" stroke-width="0.8" stroke-dasharray="1.5,1" opacity="0.75">
<path d="M232,404 Q270,394 300,378"/>
<path d="M246,410 Q284,400 306,386"/>
<path d="M262,419 Q296,408 314,396"/>
<path d="M274,430 Q304,420 326,408 Q334,402 333,396"/>
<path d="M292,444 Q316,432 336,424 Q342,420 340,412"/>
<path d="M305,372 Q330,384 342,398"/>
<path d="M330,374 Q368,386 398,410"/>
<path d="M352,378 Q384,392 410,412"/>
<path d="M398,398 Q428,400 452,408"/>
<path d="M420,397 Q440,402 458,405"/>
</g></g>
<path d="M220.0,405.4C222.9,404.3 231.5,400.9 237.2,398.6C242.9,396.3 250.2,394.1 254.4,391.7C258.6,389.3 261.0,386.4 262.1,384.0C263.2,381.6 261.4,378.2 261.2,377.0C262.9,376.4 267.8,374.7 271.5,373.7C275.2,372.7 280.5,371.4 283.6,371.0C286.8,370.6 288.4,370.8 290.4,371.4C292.4,372.0 293.9,373.4 295.6,374.5C297.3,375.6 299.9,377.4 300.8,378.0C302.5,377.1 307.7,373.8 311.1,372.8C314.5,371.8 317.1,372.0 321.4,372.0C325.7,372.0 331.2,372.2 336.9,372.9C342.6,373.6 349.8,374.7 355.8,376.3C361.8,377.9 367.9,379.9 373.0,382.3C378.1,384.7 382.7,388.4 386.7,390.9C390.7,393.3 393.3,396.0 397.0,397.0C400.7,398.0 404.1,397.3 409.0,397.0C413.9,396.7 420.8,394.9 426.2,395.2C431.6,395.5 437.4,397.5 441.7,398.7C446.0,399.9 449.3,401.5 452.0,402.1C454.7,402.7 455.4,401.1 458.0,402.1C460.6,403.1 464.9,406.4 467.5,408.1C470.1,409.8 472.5,411.7 473.5,412.4C471.6,411.6 465.0,408.4 462.0,407.5C459.0,406.6 456.5,407.3 455.4,407.3C453.7,408.9 448.2,414.4 445.1,416.7C442.0,419.0 439.4,420.1 436.5,421.0C433.6,421.9 430.5,422.2 427.9,421.9C425.3,421.6 423.4,420.4 421.1,419.3C418.8,418.2 416.5,415.9 414.2,415.0C411.9,414.1 409.9,413.7 407.3,414.1C404.7,414.5 401.9,416.0 398.7,417.6C395.5,419.2 391.8,422.2 388.4,423.6C385.0,425.0 382.1,425.8 378.1,426.2C374.1,426.6 368.4,427.1 364.4,426.2C360.4,425.3 355.7,421.9 354.0,421.0C353.4,421.3 352.9,420.9 350.6,422.6C348.3,424.3 344.3,428.1 340.3,431.2C336.3,434.3 331.1,438.8 326.5,441.5C321.9,444.2 317.1,446.5 312.8,447.5C308.5,448.5 304.8,448.5 300.8,447.5C296.8,446.5 292.7,444.2 288.7,441.5C284.7,438.8 279.0,433.2 276.7,431.2C274.4,429.2 275.3,429.8 275.0,429.5C273.6,428.1 269.8,423.8 266.4,420.9C263.0,418.0 258.4,414.6 254.4,412.3C250.4,410.0 246.3,408.5 242.3,407.2C238.3,405.9 234.0,404.9 230.3,404.6C226.6,404.3 221.7,405.3 220.0,405.4Z" fill="none" stroke="#04141c" stroke-width="0.8"/>
<path d="M458.0,402.1L464.0,392.6L470.9,384.9L477.8,381.5L478.1,394.4L476.0,406.4L473.5,412.4L467.5,408.1L461.0,404.0Z" fill="#1a86b2"/>
<path d="M458.0,402.1L464.0,392.6L470.9,384.9L477.8,381.5L478.1,394.4L476.0,406.4L473.5,412.4L467.5,408.1L461.0,404.0Z" fill="url(#vstB)"/>
<path d="M458.0,402.1L464.0,392.6L470.9,384.9L477.8,381.5L478.1,394.4L476.0,406.4L473.5,412.4L467.5,408.1L461.0,404.0Z" fill="none" stroke="#06202e" stroke-width="0.7"/>
<path d="M464,394 L478,389 M461,403 L477,400" stroke="#cfe3e3" stroke-width="0.7" stroke-dasharray="1.5,1"/>
<path d="M300.8,378.0L311.1,372.8L321.4,372.0L326.5,376.2L331.7,384.8L338.6,395.1L340.3,400.3L331.7,405.4L323.1,408.9L318.0,407.2L312.8,400.3L307.7,390.0L302.5,381.4Z" fill="url(#ribg)"/>
<path d="M300.8,378.0L311.1,372.8L321.4,372.0L326.5,376.2L331.7,384.8L338.6,395.1L340.3,400.3L331.7,405.4L323.1,408.9L318.0,407.2L312.8,400.3L307.7,390.0L302.5,381.4Z" fill="url(#meshR)"/>
<path d="M306,379 L326,377 M310,388 L333,386 M315,398 L338,396" stroke="#cfe3e3" stroke-width="0.7" stroke-dasharray="1.5,1"/>
<path d="M108.6,365.5C113.6,364.9 129.8,362.8 138.8,362.0C147.8,361.2 154.4,361.0 162.5,360.5C170.6,360.0 179.2,359.3 187.5,358.8C195.8,358.3 205.8,357.7 212.5,357.3C219.2,356.9 223.9,356.4 228.0,356.5C232.1,356.6 234.2,357.2 237.2,358.2C240.2,359.2 243.2,360.8 245.8,362.5C248.4,364.2 250.3,365.9 252.6,368.5C254.9,371.1 257.9,375.4 259.5,378.0C261.1,380.6 261.7,383.0 262.1,384.0C260.8,385.3 258.6,389.3 254.4,391.7C250.2,394.1 242.1,396.6 237.2,398.6C232.3,400.7 227.0,403.1 225.0,404.0C223.3,405.8 217.9,410.7 215.0,415.0C212.1,419.3 209.6,425.8 207.5,430.0C205.4,434.2 204.0,435.5 202.7,440.0C201.4,444.5 200.8,451.8 199.5,457.2C198.2,462.6 196.6,467.5 195.2,472.2C193.8,476.9 192.7,481.2 190.9,485.1C189.1,489.0 186.6,493.1 184.4,495.8C182.2,498.5 179.1,500.3 178.0,501.2C175.8,500.5 169.4,499.2 165.1,496.9C160.8,494.6 156.1,490.9 152.2,487.2C148.3,483.4 144.4,479.0 141.5,474.4C138.6,469.8 137.0,465.0 135.0,459.3C133.0,453.6 131.1,446.6 129.7,440.0C128.2,433.4 127.4,425.4 126.3,420.0C125.2,414.6 124.0,411.2 123.0,407.5C122.0,403.8 121.5,401.0 120.6,397.5C119.7,394.0 118.6,389.8 117.5,386.3C116.4,382.8 115.3,379.8 113.8,376.3C112.3,372.8 109.5,367.3 108.6,365.5Z" fill="url(#mf)"/>
<path d="M108.6,365.5C113.6,364.9 129.8,362.8 138.8,362.0C147.8,361.2 154.4,361.0 162.5,360.5C170.6,360.0 179.2,359.3 187.5,358.8C195.8,358.3 205.8,357.7 212.5,357.3C219.2,356.9 223.9,356.4 228.0,356.5C232.1,356.6 234.2,357.2 237.2,358.2C240.2,359.2 243.2,360.8 245.8,362.5C248.4,364.2 250.3,365.9 252.6,368.5C254.9,371.1 257.9,375.4 259.5,378.0C261.1,380.6 261.7,383.0 262.1,384.0C260.8,385.3 258.6,389.3 254.4,391.7C250.2,394.1 242.1,396.6 237.2,398.6C232.3,400.7 227.0,403.1 225.0,404.0C223.3,405.8 217.9,410.7 215.0,415.0C212.1,419.3 209.6,425.8 207.5,430.0C205.4,434.2 204.0,435.5 202.7,440.0C201.4,444.5 200.8,451.8 199.5,457.2C198.2,462.6 196.6,467.5 195.2,472.2C193.8,476.9 192.7,481.2 190.9,485.1C189.1,489.0 186.6,493.1 184.4,495.8C182.2,498.5 179.1,500.3 178.0,501.2C175.8,500.5 169.4,499.2 165.1,496.9C160.8,494.6 156.1,490.9 152.2,487.2C148.3,483.4 144.4,479.0 141.5,474.4C138.6,469.8 137.0,465.0 135.0,459.3C133.0,453.6 131.1,446.6 129.7,440.0C128.2,433.4 127.4,425.4 126.3,420.0C125.2,414.6 124.0,411.2 123.0,407.5C122.0,403.8 121.5,401.0 120.6,397.5C119.7,394.0 118.6,389.8 117.5,386.3C116.4,382.8 115.3,379.8 113.8,376.3C112.3,372.8 109.5,367.3 108.6,365.5Z" fill="url(#mesh)"/>
<defs><clipPath id="clipMF"><path d="M108.6,365.5C113.6,364.9 129.8,362.8 138.8,362.0C147.8,361.2 154.4,361.0 162.5,360.5C170.6,360.0 179.2,359.3 187.5,358.8C195.8,358.3 205.8,357.7 212.5,357.3C219.2,356.9 223.9,356.4 228.0,356.5C232.1,356.6 234.2,357.2 237.2,358.2C240.2,359.2 243.2,360.8 245.8,362.5C248.4,364.2 250.3,365.9 252.6,368.5C254.9,371.1 257.9,375.4 259.5,378.0C261.1,380.6 261.7,383.0 262.1,384.0C260.8,385.3 258.6,389.3 254.4,391.7C250.2,394.1 242.1,396.6 237.2,398.6C232.3,400.7 227.0,403.1 225.0,404.0C223.3,405.8 217.9,410.7 215.0,415.0C212.1,419.3 209.6,425.8 207.5,430.0C205.4,434.2 204.0,435.5 202.7,440.0C201.4,444.5 200.8,451.8 199.5,457.2C198.2,462.6 196.6,467.5 195.2,472.2C193.8,476.9 192.7,481.2 190.9,485.1C189.1,489.0 186.6,493.1 184.4,495.8C182.2,498.5 179.1,500.3 178.0,501.2C175.8,500.5 169.4,499.2 165.1,496.9C160.8,494.6 156.1,490.9 152.2,487.2C148.3,483.4 144.4,479.0 141.5,474.4C138.6,469.8 137.0,465.0 135.0,459.3C133.0,453.6 131.1,446.6 129.7,440.0C128.2,433.4 127.4,425.4 126.3,420.0C125.2,414.6 124.0,411.2 123.0,407.5C122.0,403.8 121.5,401.0 120.6,397.5C119.7,394.0 118.6,389.8 117.5,386.3C116.4,382.8 115.3,379.8 113.8,376.3C112.3,372.8 109.5,367.3 108.6,365.5Z"/></clipPath></defs>
<g clip-path="url(#clipMF)">
<path d="M108,365 L120,398 L130,440 L142,474 L166,497 L180,502" stroke="#06281a" stroke-width="5" fill="none" opacity="0.45" filter="url(#b1)"/>
<g stroke="#d4e8e8" stroke-width="0.9" stroke-dasharray="1.6,1.1" opacity="0.9">
<path d="M100,368.3 L270,366.3"/>
<path d="M100,382.0 L270,380.0"/>
<path d="M100,395.0 L270,393.0"/>
<path d="M100,407.5 L270,405.5"/>
<path d="M100,420.5 L270,418.5"/>
<path d="M100,433.5 L270,431.5"/>
<path d="M100,446.5 L270,444.5"/>
<path d="M100,459.5 L270,457.5"/>
<path d="M100,472.5 L270,470.5"/>
<path d="M100,485.5 L270,483.5"/>
</g></g>
<defs><clipPath id="clipOF"><path d="M220.0,405.4C221.7,405.3 226.6,404.3 230.3,404.6C234.0,404.9 238.3,405.9 242.3,407.2C246.3,408.5 250.4,410.0 254.4,412.3C258.4,414.6 263.0,418.0 266.4,420.9C269.8,423.8 273.6,428.1 275.0,429.5C274.8,431.2 274.2,434.7 273.6,440.0C273.0,445.3 272.3,452.6 271.4,461.5C270.5,470.4 269.4,483.0 268.2,493.7C266.9,504.4 265.3,516.9 263.9,525.9C262.5,534.9 261.4,539.5 259.6,547.4C257.8,555.3 255.0,567.5 253.2,573.2C251.4,578.9 250.3,580.0 248.9,581.7C247.5,583.4 246.8,584.3 244.6,583.2C242.4,582.1 238.9,578.8 236.0,575.3C233.1,571.8 230.6,567.0 227.4,562.4C224.2,557.8 220.2,552.0 216.6,547.4C213.0,542.8 209.5,538.8 205.9,534.5C202.3,530.2 198.8,525.9 195.2,521.6C191.6,517.3 187.3,512.1 184.4,508.7C181.5,505.3 179.1,502.4 178.0,501.2C179.1,500.3 182.2,498.5 184.4,495.8C186.6,493.1 189.1,489.0 190.9,485.1C192.7,481.2 193.8,476.9 195.2,472.2C196.6,467.5 198.2,462.6 199.5,457.2C200.8,451.8 201.4,444.5 202.7,440.0C204.0,435.5 205.4,434.2 207.5,430.0C209.6,425.8 212.9,419.1 215.0,415.0C217.1,410.9 219.2,407.0 220.0,405.4Z"/></clipPath></defs>
<path d="M220.0,405.4C221.7,405.3 226.6,404.3 230.3,404.6C234.0,404.9 238.3,405.9 242.3,407.2C246.3,408.5 250.4,410.0 254.4,412.3C258.4,414.6 263.0,418.0 266.4,420.9C269.8,423.8 273.6,428.1 275.0,429.5C274.8,431.2 274.2,434.7 273.6,440.0C273.0,445.3 272.3,452.6 271.4,461.5C270.5,470.4 269.4,483.0 268.2,493.7C266.9,504.4 265.3,516.9 263.9,525.9C262.5,534.9 261.4,539.5 259.6,547.4C257.8,555.3 255.0,567.5 253.2,573.2C251.4,578.9 250.3,580.0 248.9,581.7C247.5,583.4 246.8,584.3 244.6,583.2C242.4,582.1 238.9,578.8 236.0,575.3C233.1,571.8 230.6,567.0 227.4,562.4C224.2,557.8 220.2,552.0 216.6,547.4C213.0,542.8 209.5,538.8 205.9,534.5C202.3,530.2 198.8,525.9 195.2,521.6C191.6,517.3 187.3,512.1 184.4,508.7C181.5,505.3 179.1,502.4 178.0,501.2C179.1,500.3 182.2,498.5 184.4,495.8C186.6,493.1 189.1,489.0 190.9,485.1C192.7,481.2 193.8,476.9 195.2,472.2C196.6,467.5 198.2,462.6 199.5,457.2C200.8,451.8 201.4,444.5 202.7,440.0C204.0,435.5 205.4,434.2 207.5,430.0C209.6,425.8 212.9,419.1 215.0,415.0C217.1,410.9 219.2,407.0 220.0,405.4Z" fill="url(#of)"/>
<g clip-path="url(#clipOF)">
<path d="M178,501 L196,522 L217,548 L236,575 L246,584" stroke="#2a0e02" stroke-width="9" fill="none" opacity="0.55" filter="url(#b2)"/>
<path d="M262,420 L268,470 L262,530 L252,575" stroke="#d8703a" stroke-width="8" fill="none" opacity="0.5" filter="url(#b2)"/>
</g>
<path d="M220.0,405.4C221.7,405.3 226.6,404.3 230.3,404.6C234.0,404.9 238.3,405.9 242.3,407.2C246.3,408.5 250.4,410.0 254.4,412.3C258.4,414.6 263.0,418.0 266.4,420.9C269.8,423.8 273.6,428.1 275.0,429.5C274.8,431.2 274.2,434.7 273.6,440.0C273.0,445.3 272.3,452.6 271.4,461.5C270.5,470.4 269.4,483.0 268.2,493.7C266.9,504.4 265.3,516.9 263.9,525.9C262.5,534.9 261.4,539.5 259.6,547.4C257.8,555.3 255.0,567.5 253.2,573.2C251.4,578.9 250.3,580.0 248.9,581.7C247.5,583.4 246.8,584.3 244.6,583.2C242.4,582.1 238.9,578.8 236.0,575.3C233.1,571.8 230.6,567.0 227.4,562.4C224.2,557.8 220.2,552.0 216.6,547.4C213.0,542.8 209.5,538.8 205.9,534.5C202.3,530.2 198.8,525.9 195.2,521.6C191.6,517.3 187.3,512.1 184.4,508.7C181.5,505.3 179.1,502.4 178.0,501.2C179.1,500.3 182.2,498.5 184.4,495.8C186.6,493.1 189.1,489.0 190.9,485.1C192.7,481.2 193.8,476.9 195.2,472.2C196.6,467.5 198.2,462.6 199.5,457.2C200.8,451.8 201.4,444.5 202.7,440.0C204.0,435.5 205.4,434.2 207.5,430.0C209.6,425.8 212.9,419.1 215.0,415.0C217.1,410.9 219.2,407.0 220.0,405.4Z" fill="url(#meshO)"/>
<path d="M108.6,365.5C113.6,364.9 129.8,362.8 138.8,362.0C147.8,361.2 154.4,361.0 162.5,360.5C170.6,360.0 179.2,359.3 187.5,358.8C195.8,358.3 205.8,357.7 212.5,357.3C219.2,356.9 223.9,356.4 228.0,356.5C232.1,356.6 234.2,357.2 237.2,358.2C240.2,359.2 243.2,360.8 245.8,362.5C248.4,364.2 250.3,365.9 252.6,368.5C254.9,371.1 257.9,375.4 259.5,378.0C261.1,380.6 261.7,383.0 262.1,384.0C260.8,385.3 258.6,389.3 254.4,391.7C250.2,394.1 242.1,396.6 237.2,398.6C232.3,400.7 227.0,403.1 225.0,404.0C223.3,405.8 217.9,410.7 215.0,415.0C212.1,419.3 209.6,425.8 207.5,430.0C205.4,434.2 204.0,435.5 202.7,440.0C201.4,444.5 200.8,451.8 199.5,457.2C198.2,462.6 196.6,467.5 195.2,472.2C193.8,476.9 192.7,481.2 190.9,485.1C189.1,489.0 186.6,493.1 184.4,495.8C182.2,498.5 179.1,500.3 178.0,501.2C175.8,500.5 169.4,499.2 165.1,496.9C160.8,494.6 156.1,490.9 152.2,487.2C148.3,483.4 144.4,479.0 141.5,474.4C138.6,469.8 137.0,465.0 135.0,459.3C133.0,453.6 131.1,446.6 129.7,440.0C128.2,433.4 127.4,425.4 126.3,420.0C125.2,414.6 124.0,411.2 123.0,407.5C122.0,403.8 121.5,401.0 120.6,397.5C119.7,394.0 118.6,389.8 117.5,386.3C116.4,382.8 115.3,379.8 113.8,376.3C112.3,372.8 109.5,367.3 108.6,365.5Z" fill="none" stroke="#06161e" stroke-width="0.9"/>
<path d="M220.0,405.4C221.7,405.3 226.6,404.3 230.3,404.6C234.0,404.9 238.3,405.9 242.3,407.2C246.3,408.5 250.4,410.0 254.4,412.3C258.4,414.6 263.0,418.0 266.4,420.9C269.8,423.8 273.6,428.1 275.0,429.5C274.8,431.2 274.2,434.7 273.6,440.0C273.0,445.3 272.3,452.6 271.4,461.5C270.5,470.4 269.4,483.0 268.2,493.7C266.9,504.4 265.3,516.9 263.9,525.9C262.5,534.9 261.4,539.5 259.6,547.4C257.8,555.3 255.0,567.5 253.2,573.2C251.4,578.9 250.3,580.0 248.9,581.7C247.5,583.4 246.8,584.3 244.6,583.2C242.4,582.1 238.9,578.8 236.0,575.3C233.1,571.8 230.6,567.0 227.4,562.4C224.2,557.8 220.2,552.0 216.6,547.4C213.0,542.8 209.5,538.8 205.9,534.5C202.3,530.2 198.8,525.9 195.2,521.6C191.6,517.3 187.3,512.1 184.4,508.7C181.5,505.3 179.1,502.4 178.0,501.2C179.1,500.3 182.2,498.5 184.4,495.8C186.6,493.1 189.1,489.0 190.9,485.1C192.7,481.2 193.8,476.9 195.2,472.2C196.6,467.5 198.2,462.6 199.5,457.2C200.8,451.8 201.4,444.5 202.7,440.0C204.0,435.5 205.4,434.2 207.5,430.0C209.6,425.8 212.9,419.1 215.0,415.0C217.1,410.9 219.2,407.0 220.0,405.4Z" fill="none" stroke="#2a0f04" stroke-width="0.9"/>
<text x="91.0" y="584.0" font-size="14.8" text-anchor="start" fill="#1a1a1a" font-weight="normal" textLength="28.0" lengthAdjust="spacingAndGlyphs"  stroke="#1a1a1a" stroke-width="0.4">0.50</text>
<text x="109.0" y="597.5" font-size="14.8" text-anchor="start" fill="#1a1a1a" font-weight="normal" textLength="27.0" lengthAdjust="spacingAndGlyphs"  stroke="#1a1a1a" stroke-width="0.4">0.25</text>
<text x="145.0" y="613.5" font-size="14.8" text-anchor="start" fill="#1a1a1a" font-weight="normal" textLength="8.0" lengthAdjust="spacingAndGlyphs"  stroke="#1a1a1a" stroke-width="0.4">0</text>
<text x="136.0" y="631.0" font-size="14.8" text-anchor="start" fill="#1a1a1a" font-weight="normal" textLength="36.5" lengthAdjust="spacingAndGlyphs"  stroke="#1a1a1a" stroke-width="0.4">−0.25</text>
<text x="155.0" y="652.0" font-size="14.8" text-anchor="start" fill="#1a1a1a" font-weight="normal" textLength="37.0" lengthAdjust="spacingAndGlyphs"  stroke="#1a1a1a" stroke-width="0.4">−0.50</text>
<text x="259.5" y="667.0" font-size="14.8" text-anchor="start" fill="#1a1a1a" font-weight="normal" textLength="36.5" lengthAdjust="spacingAndGlyphs"  stroke="#1a1a1a" stroke-width="0.4">−0.50</text>
<text x="303.0" y="654.0" font-size="14.8" text-anchor="start" fill="#1a1a1a" font-weight="normal" textLength="37.5" lengthAdjust="spacingAndGlyphs"  stroke="#1a1a1a" stroke-width="0.4">−0.25</text>
<text x="361.0" y="640.0" font-size="14.8" text-anchor="start" fill="#1a1a1a" font-weight="normal" textLength="8.0" lengthAdjust="spacingAndGlyphs"  stroke="#1a1a1a" stroke-width="0.4">0</text>
<text x="401.0" y="629.0" font-size="14.8" text-anchor="start" fill="#1a1a1a" font-weight="normal" textLength="27.5" lengthAdjust="spacingAndGlyphs"  stroke="#1a1a1a" stroke-width="0.4">0.25</text>
<text x="440.0" y="619.5" font-size="14.8" text-anchor="start" fill="#1a1a1a" font-weight="normal" textLength="28.0" lengthAdjust="spacingAndGlyphs"  stroke="#1a1a1a" stroke-width="0.4">0.50</text>
<text transform="translate(95,616.5) rotate(45)" font-size="14.2" fill="#1a1a1a" stroke="#1a1a1a" stroke-width="0.35" textLength="43.5" lengthAdjust="spacingAndGlyphs" dy="0"><tspan font-style="italic">X</tspan> (µm)</text>
<text transform="translate(356,666.5) rotate(-14)" font-size="14.8" fill="#1a1a1a" stroke="#1a1a1a" stroke-width="0.4" textLength="43" lengthAdjust="spacingAndGlyphs"><tspan font-style="italic">Y</tspan> (µm)</text>
<text class="lbl" x="507.9" y="327.3" textLength="48.5" lengthAdjust="spacingAndGlyphs">(<tspan dy="1.2">d</tspan><tspan dy="-1.2">)</tspan></text>
<defs><clipPath id="clipD"><rect x="606.4" y="363.8" width="414.6" height="282.4"/></clipPath></defs>
<path d="M606.4,363.8 H1021.0 V646.2 H606.4 Z" fill="none" stroke="#808080" stroke-width="1.3"/>
<path d="M606.4,363.8 V646.2 H1021.0" fill="none" stroke="#6e6e6e" stroke-width="1.6"/>
<path d="M606.4,363.8 h-6.5M606.4,382.6 h-3.4M606.4,401.5 h-6.5M606.4,420.4 h-3.4M606.4,439.2 h-6.5M606.4,458.1 h-3.4M606.4,476.9 h-6.5M606.4,495.8 h-3.4M606.4,514.6 h-6.5M606.4,533.5 h-3.4M606.4,552.3 h-6.5M606.4,571.2 h-3.4M606.4,590.0 h-6.5M606.4,608.9 h-3.4M606.4,627.7 h-6.5M606.4,646.5 h-3.4M636.0,646.2 v5.5M665.6,646.2 v3M695.3,646.2 v5.5M724.9,646.2 v3M754.5,646.2 v5.5M784.2,646.2 v3M813.8,646.2 v5.5M843.4,646.2 v3M873.1,646.2 v5.5M902.7,646.2 v3M932.3,646.2 v5.5M961.9,646.2 v3M991.6,646.2 v5.5" stroke="#808080" stroke-width="1.1" fill="none"/>
<text x="565.0" y="369.0" font-size="14.8" text-anchor="start" fill="#1a1a1a" font-weight="normal" textLength="29.5" lengthAdjust="spacingAndGlyphs"  stroke="#1a1a1a" stroke-width="0.4">−0.3</text>
<text x="565.0" y="406.7" font-size="14.8" text-anchor="start" fill="#1a1a1a" font-weight="normal" textLength="29.5" lengthAdjust="spacingAndGlyphs"  stroke="#1a1a1a" stroke-width="0.4">−0.4</text>
<text x="565.0" y="444.4" font-size="14.8" text-anchor="start" fill="#1a1a1a" font-weight="normal" textLength="29.5" lengthAdjust="spacingAndGlyphs"  stroke="#1a1a1a" stroke-width="0.4">−0.5</text>
<text x="565.0" y="482.1" font-size="14.8" text-anchor="start" fill="#1a1a1a" font-weight="normal" textLength="29.5" lengthAdjust="spacingAndGlyphs"  stroke="#1a1a1a" stroke-width="0.4">−0.6</text>
<text x="565.0" y="519.8" font-size="14.8" text-anchor="start" fill="#1a1a1a" font-weight="normal" textLength="29.5" lengthAdjust="spacingAndGlyphs"  stroke="#1a1a1a" stroke-width="0.4">−0.7</text>
<text x="565.0" y="557.5" font-size="14.8" text-anchor="start" fill="#1a1a1a" font-weight="normal" textLength="29.5" lengthAdjust="spacingAndGlyphs"  stroke="#1a1a1a" stroke-width="0.4">−0.8</text>
<text x="565.0" y="595.2" font-size="14.8" text-anchor="start" fill="#1a1a1a" font-weight="normal" textLength="29.5" lengthAdjust="spacingAndGlyphs"  stroke="#1a1a1a" stroke-width="0.4">−0.9</text>
<text x="565.0" y="632.9" font-size="14.8" text-anchor="start" fill="#1a1a1a" font-weight="normal" textLength="29.5" lengthAdjust="spacingAndGlyphs"  stroke="#1a1a1a" stroke-width="0.4">−1.0</text>
<text x="636.0" y="669.0" font-size="14.8" text-anchor="middle" fill="#1a1a1a" font-weight="normal" textLength="29.5" lengthAdjust="spacingAndGlyphs"  stroke="#1a1a1a" stroke-width="0.4">−0.6</text>
<text x="695.3" y="669.0" font-size="14.8" text-anchor="middle" fill="#1a1a1a" font-weight="normal" textLength="29.5" lengthAdjust="spacingAndGlyphs"  stroke="#1a1a1a" stroke-width="0.4">−0.4</text>
<text x="754.5" y="669.0" font-size="14.8" text-anchor="middle" fill="#1a1a1a" font-weight="normal" textLength="29.5" lengthAdjust="spacingAndGlyphs"  stroke="#1a1a1a" stroke-width="0.4">−0.2</text>
<text x="813.8" y="669.0" font-size="14.8" text-anchor="middle" fill="#1a1a1a" font-weight="normal" textLength="8.0" lengthAdjust="spacingAndGlyphs"  stroke="#1a1a1a" stroke-width="0.4">0</text>
<text x="873.1" y="669.0" font-size="14.8" text-anchor="middle" fill="#1a1a1a" font-weight="normal" textLength="20.0" lengthAdjust="spacingAndGlyphs"  stroke="#1a1a1a" stroke-width="0.4">0.2</text>
<text x="932.3" y="669.0" font-size="14.8" text-anchor="middle" fill="#1a1a1a" font-weight="normal" textLength="20.0" lengthAdjust="spacingAndGlyphs"  stroke="#1a1a1a" stroke-width="0.4">0.4</text>
<text x="991.6" y="669.0" font-size="14.8" text-anchor="middle" fill="#1a1a1a" font-weight="normal" textLength="20.0" lengthAdjust="spacingAndGlyphs"  stroke="#1a1a1a" stroke-width="0.4">0.6</text>
<text x="791" y="691" font-size="14.8" fill="#1a1a1a" stroke="#1a1a1a" stroke-width="0.4" textLength="49" lengthAdjust="spacingAndGlyphs"><tspan font-style="italic">Y</tspan> (µm)</text>
<text transform="translate(548.7,506) rotate(-90)" text-anchor="middle" font-size="14.8" fill="#1a1a1a" stroke="#1a1a1a" stroke-width="0.4" textLength="156" lengthAdjust="spacingAndGlyphs">Normalized optical potential</text>
<path d="M616.3,380.0 H660" stroke="#ee2f48" stroke-width="1.9"/>
<text x="665.8" y="385.2" font-size="14.8" text-anchor="start" fill="#1a1a1a" font-weight="normal" textLength="46.2" lengthAdjust="spacingAndGlyphs"  stroke="#1a1a1a" stroke-width="0.4">100 nm</text>
<path d="M616.3,401.9 H660" stroke="#10ad5a" stroke-width="1.9"/>
<text x="665.8" y="407.1" font-size="14.8" text-anchor="start" fill="#1a1a1a" font-weight="normal" textLength="46.2" lengthAdjust="spacingAndGlyphs"  stroke="#1a1a1a" stroke-width="0.4">200 nm</text>
<path d="M616.3,423.8 H660" stroke="#1269ad" stroke-width="1.9"/>
<text x="665.8" y="429.0" font-size="14.8" text-anchor="start" fill="#1a1a1a" font-weight="normal" textLength="46.2" lengthAdjust="spacingAndGlyphs"  stroke="#1a1a1a" stroke-width="0.4">300 nm</text>
<path d="M616.3,445.7 H660" stroke="#f0148c" stroke-width="1.9"/>
<text x="665.8" y="450.9" font-size="14.8" text-anchor="start" fill="#1a1a1a" font-weight="normal" textLength="46.2" lengthAdjust="spacingAndGlyphs"  stroke="#1a1a1a" stroke-width="0.4">400 nm</text>
<path d="M616.3,467.6 H660" stroke="#262626" stroke-width="1.9"/>
<text x="665.8" y="472.8" font-size="14.8" text-anchor="start" fill="#1a1a1a" font-weight="normal" textLength="46.2" lengthAdjust="spacingAndGlyphs"  stroke="#1a1a1a" stroke-width="0.4">500 nm</text>
<g clip-path="url(#clipD)" fill="none" stroke-width="1.9" stroke-linejoin="round">
<path d="M606.4,610.7C610.0,611.9 621.0,615.7 627.9,617.8C634.8,619.9 641.6,622.0 647.7,623.5C653.9,625.0 659.6,625.9 664.8,626.6C670.0,627.3 673.8,627.7 679.0,627.6C684.2,627.5 689.9,627.9 696.0,626.3C702.1,624.7 709.7,621.5 715.5,618.0C721.3,614.5 725.8,610.5 730.9,605.5C736.0,600.5 741.2,594.5 746.4,588.0C751.6,581.5 756.8,574.0 761.9,566.3C767.0,558.6 772.6,549.2 777.3,541.9C782.0,534.6 785.9,528.5 790.2,522.5C794.5,516.5 798.8,510.5 803.1,505.8C807.4,501.1 811.7,496.9 816.0,494.2C820.3,491.5 825.5,490.5 828.9,489.6C832.3,488.7 832.3,488.4 836.6,489.0C840.9,489.6 849.4,491.6 854.6,492.9C859.8,494.2 863.3,496.0 868.0,497.0C872.7,498.0 877.2,498.5 883.0,498.8C888.8,499.1 896.3,498.6 903.0,498.8C909.7,499.0 916.3,499.3 923.0,500.0C929.7,500.7 937.2,502.4 943.0,503.0C948.8,503.6 953.0,504.2 958.0,503.8C963.0,503.4 967.2,502.2 973.0,500.8C978.8,499.4 987.2,496.7 993.0,495.5C998.8,494.3 1003.3,493.9 1008.0,493.8C1012.7,493.7 1018.8,494.8 1021.0,495.0" stroke="#262626"/>
<path d="M606.4,596.5C610.0,598.3 621.0,604.0 627.9,607.3C634.8,610.6 641.1,613.8 647.7,616.4C654.3,619.0 661.5,621.2 667.6,622.9C673.8,624.5 678.9,625.5 684.6,626.3C690.3,627.1 696.6,627.7 701.7,627.6C706.9,627.5 711.0,627.0 715.5,625.6C720.0,624.2 724.1,622.4 728.4,619.2C732.7,616.0 737.4,611.0 741.2,606.3C745.1,601.6 748.0,596.8 751.5,590.8C755.0,584.8 758.4,577.5 761.9,570.2C765.4,562.9 768.8,554.7 772.2,547.0C775.6,539.3 779.1,530.9 782.5,523.8C785.9,516.7 789.4,510.1 792.8,504.5C796.2,498.9 799.7,494.2 803.1,490.3C806.5,486.4 809.7,483.7 813.4,481.3C817.1,478.9 820.6,476.2 825.5,475.8C830.4,475.4 836.8,477.4 843.0,478.8C849.2,480.2 855.9,482.8 863.0,484.5C870.1,486.2 878.0,487.2 885.5,488.8C893.0,490.4 900.5,492.4 908.0,493.8C915.5,495.2 923.8,496.8 930.5,497.0C937.2,497.2 941.8,496.2 948.0,495.0C954.2,493.8 961.3,491.4 968.0,490.0C974.7,488.6 982.2,487.0 988.0,486.3C993.8,485.6 997.5,485.5 1003.0,485.8C1008.5,486.1 1018.0,487.9 1021.0,488.3" stroke="#f0148c"/>
<path d="M606.4,571.0C610.9,573.4 625.2,580.7 633.5,585.2C641.8,589.7 648.6,593.6 656.2,597.9C663.8,602.1 672.4,607.2 679.0,610.7C685.6,614.2 690.8,616.8 696.0,619.2C701.2,621.6 705.8,623.5 710.2,624.9C714.6,626.3 718.6,627.6 722.5,627.5C726.4,627.4 730.2,626.3 733.5,624.3C736.8,622.3 739.5,619.6 742.5,615.3C745.5,611.0 748.7,604.4 751.5,598.6C754.3,592.8 756.7,587.4 759.3,580.5C761.9,573.6 764.4,565.5 767.0,557.3C769.6,549.1 772.1,540.1 774.7,531.5C777.3,522.9 779.9,514.0 782.5,505.8C785.1,497.6 787.5,489.5 790.5,482.5C793.5,475.5 796.8,468.1 800.5,463.8C804.2,459.6 808.8,457.4 813.0,457.0C817.2,456.6 820.9,459.6 825.5,461.3C830.1,463.1 836.3,466.2 840.5,467.5C844.7,468.8 846.8,469.2 850.5,468.8C854.2,468.4 858.8,465.9 863.0,465.0C867.2,464.1 871.3,462.7 875.5,463.3C879.7,463.9 883.4,465.6 888.0,468.8C892.6,472.0 898.4,478.6 903.0,482.5C907.6,486.4 911.5,489.9 915.5,492.0C919.5,494.1 922.6,495.3 926.8,495.0C931.0,494.7 936.1,492.5 940.5,490.0C944.9,487.5 948.8,483.1 953.0,480.0C957.2,476.9 961.8,473.2 965.5,471.3C969.2,469.4 971.8,468.3 975.5,468.3C979.2,468.3 983.4,469.6 988.0,471.3C992.6,473.0 998.4,476.6 1003.0,478.3C1007.6,480.0 1012.5,480.8 1015.5,481.3C1018.5,481.8 1020.1,481.3 1021.0,481.3" stroke="#1269ad"/>
<path d="M606.4,534.0C610.9,536.4 625.2,543.3 633.5,548.3C641.8,553.3 648.6,558.2 656.2,563.9C663.8,569.6 672.4,576.6 679.0,582.3C685.6,588.0 690.3,592.8 696.0,597.9C701.7,603.0 707.8,608.7 713.0,613.0C718.2,617.3 723.6,621.3 727.2,623.6C730.8,625.9 732.6,626.0 734.8,626.6C737.0,627.2 738.6,628.0 740.5,627.4C742.4,626.8 744.4,626.1 746.4,623.0C748.4,619.9 750.6,614.7 752.8,608.9C754.9,603.1 757.1,595.5 759.3,588.2C761.4,580.9 763.6,573.6 765.7,565.0C767.9,556.4 770.3,545.3 772.2,536.7C774.1,528.1 775.4,522.5 777.3,513.5C779.2,504.6 782.0,490.7 783.8,483.0C785.6,475.3 786.0,473.8 788.0,467.5C790.0,461.2 793.0,450.8 795.5,445.0C798.0,439.2 800.7,435.5 803.0,433.0C805.3,430.5 806.8,429.7 809.3,430.0C811.8,430.3 814.5,431.7 818.0,435.0C821.5,438.3 826.1,446.2 830.5,450.0C834.9,453.8 840.1,457.1 844.3,457.5C848.5,457.9 851.5,455.6 855.5,452.5C859.5,449.4 863.6,442.3 868.0,438.8C872.4,435.3 877.6,431.3 881.8,431.3C886.0,431.3 889.0,434.0 893.0,438.8C897.0,443.6 901.3,453.1 905.5,460.0C909.7,466.9 914.2,475.6 918.0,480.0C921.8,484.4 924.7,486.1 928.0,486.3C931.3,486.5 934.2,485.3 938.0,481.3C941.8,477.3 946.3,468.1 950.5,462.5C954.7,456.9 958.9,450.8 963.0,447.5C967.1,444.2 970.8,442.3 975.0,442.5C979.2,442.7 983.3,445.7 988.0,448.8C992.7,451.9 998.4,458.1 1003.0,461.3C1007.6,464.5 1012.5,466.9 1015.5,468.0C1018.5,469.1 1020.1,468.0 1021.0,468.0" stroke="#10ad5a"/>
<path d="M606.4,491.3C609.0,492.6 616.3,495.8 622.2,499.0C628.1,502.2 635.4,506.2 642.0,510.5C648.6,514.8 655.8,519.9 662.0,524.5C668.2,529.1 673.3,533.1 679.0,538.0C684.7,542.9 690.3,548.2 696.0,554.0C701.7,559.8 708.4,567.2 713.0,573.0C717.6,578.8 720.4,583.5 723.6,589.0C726.8,594.5 729.6,600.9 732.3,606.0C734.9,611.1 737.4,616.2 739.5,619.5C741.6,622.8 743.4,624.7 745.0,626.0C746.6,627.3 747.8,627.8 749.3,627.2C750.8,626.6 752.1,626.0 753.8,622.5C755.5,619.0 757.5,612.9 759.3,606.3C761.1,599.7 762.7,591.2 764.4,583.0C766.1,574.8 767.9,565.9 769.6,557.3C771.3,548.7 773.0,540.1 774.7,531.5C776.4,522.9 778.2,514.4 779.9,505.8C781.6,497.2 783.3,488.5 785.0,480.0C786.7,471.5 788.2,462.9 790.0,455.0C791.8,447.1 793.3,438.9 795.5,432.5C797.7,426.1 800.5,419.7 803.0,416.3C805.5,412.9 808.0,412.3 810.5,412.3C813.0,412.3 814.7,412.5 818.0,416.3C821.3,420.1 826.1,430.1 830.5,435.0C834.9,439.9 840.1,444.9 844.3,445.5C848.5,446.1 851.5,443.5 855.5,438.8C859.5,434.1 864.2,423.6 868.0,417.5C871.8,411.4 875.2,405.5 878.0,402.5C880.8,399.5 882.5,398.9 885.0,399.3C887.5,399.7 890.0,400.7 893.0,405.0C896.0,409.3 899.7,417.9 903.0,425.0C906.3,432.1 910.1,441.4 913.0,447.5C915.9,453.6 917.8,458.1 920.5,461.3C923.2,464.6 926.4,466.8 929.3,467.0C932.2,467.2 934.9,466.2 938.0,462.5C941.1,458.8 944.2,451.0 948.0,445.0C951.8,439.0 956.1,430.6 960.5,426.3C964.9,422.0 969.7,419.3 974.3,419.3C978.9,419.3 983.2,422.6 988.0,426.3C992.8,430.0 998.4,437.7 1003.0,441.3C1007.6,444.9 1012.5,447.0 1015.5,448.0C1018.5,449.0 1020.1,447.6 1021.0,447.5" stroke="#ee2f48"/>
</g>
<rect x="746" y="636.6" width="135" height="7.6" fill="#f7923a" stroke="#3a2a1a" stroke-width="1"/>
<path d="M845.5,625.5 L779.3,625.5" stroke="#ee3a4c" stroke-width="1.3" fill="none"/><path d="M774.5,625.5 L782.5,622.5 L779.7,625.5 L782.5,628.5 Z" fill="#ee3a4c"/>
</svg>
</body></html>
